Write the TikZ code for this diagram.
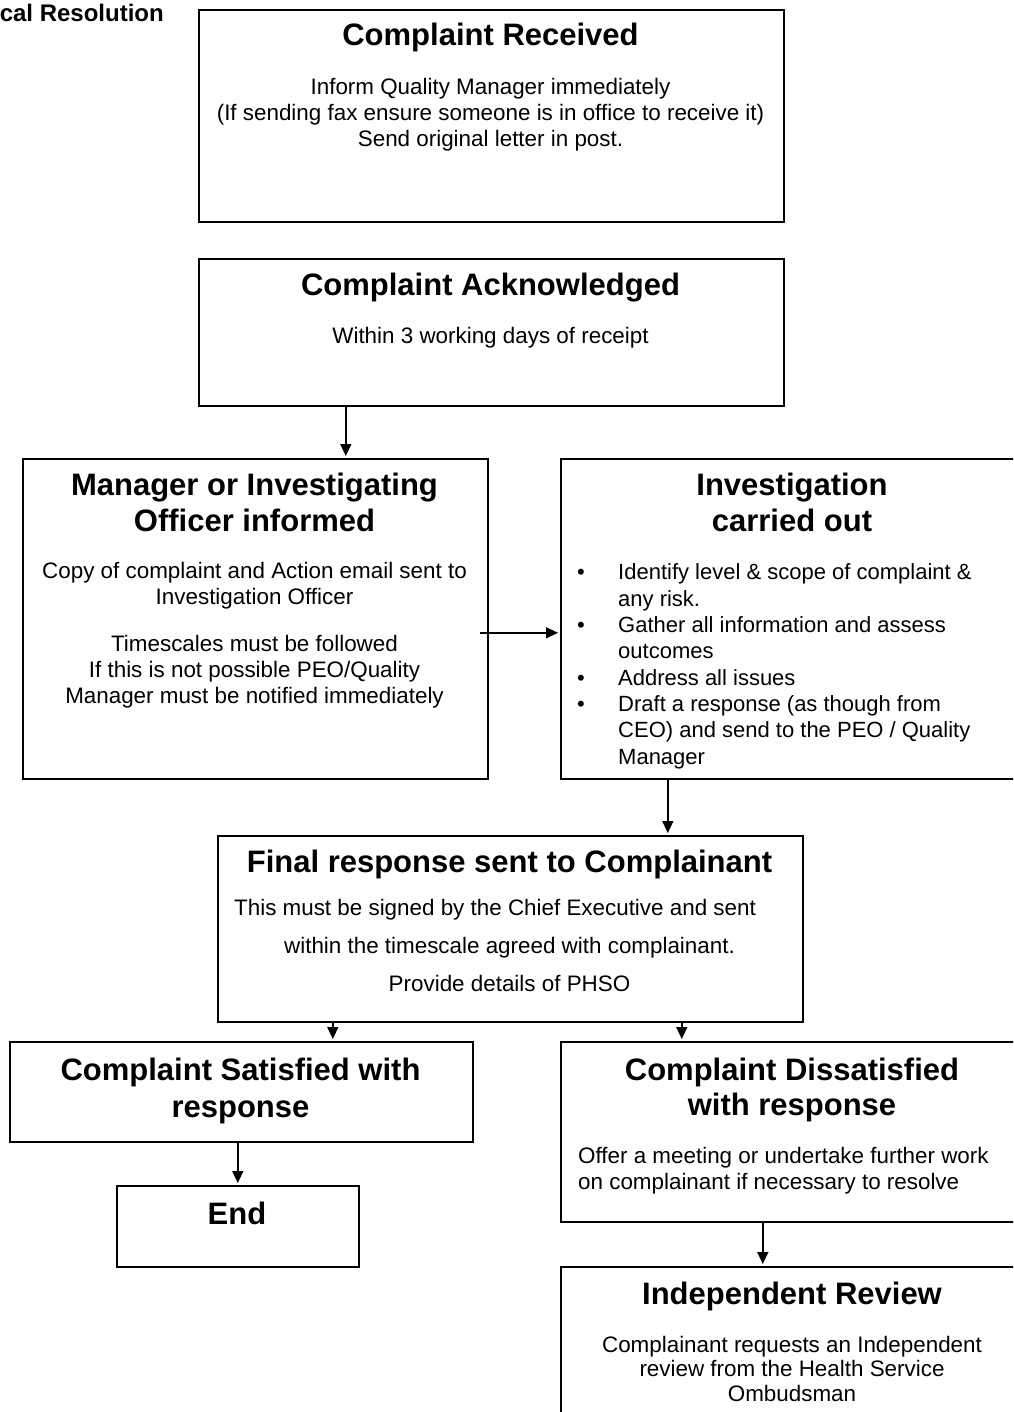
\documentclass[tikz,border=0pt]{standalone}
\usepackage{fontspec}
\setmainfont{Liberation Sans}
\usetikzlibrary{
    arrows.meta,
    positioning
}

\newcommand{\bul}{\makebox[41pt][l]{\textbullet}}
\newcommand{\cont}{\hspace*{41pt}}

\begin{document}
\begin{tikzpicture}[
        x=1pt, y=-1pt,
        >={Triangle[length=12pt,width=11pt]},
        box/.style={
            draw,
            line width=1.6pt,
            anchor=north west,
            inner sep=0pt
        },
        title/.style={
            anchor=base,
            align=center,
            inner sep=0pt,
            font=\fontsize{31}{36}\selectfont\bfseries
        },
        body/.style={
            anchor=base,
            align=center,
            inner sep=0pt,
            font=\fontsize{22.4}{26}\selectfont
        },
        link/.style={->, line width=1.4pt, shorten >=2pt}
    ]
        \useasboundingbox (0,0) rectangle (1013,1412);
        \clip (0,0) rectangle (1013,1412);

        \node[anchor=base east, inner sep=0pt,
            font=\fontsize{24}{28}\selectfont\bfseries] (hdr) at (164,22) {cal Resolution};

        % boxes
        \node[box, minimum width=585, minimum height=212] (recv) at (198,9) {};
        \node[box, minimum width=585, minimum height=147] (ack) at (198,258) {};
        \node[box, minimum width=465, minimum height=320] (mgr) at (22,458) {};
        \node[box, minimum width=464, minimum height=320] (inv) at (560,458) {};
        \node[box, minimum width=585, minimum height=186] (fin) at (217,835) {};
        \node[box, minimum width=463, minimum height=100] (sat) at (9,1041) {};
        \node[box, minimum width=242, minimum height=81] (end) at (116,1185) {};
        \node[box, minimum width=464, minimum height=180] (dis) at (560,1041) {};
        \node[box, minimum width=464, minimum height=200] (ind) at (560,1266) {};

        % texts (base = last line)
        \node[title] (recvT) at (490.5,46) {Complaint Received};
        \node[body] (recvB) at (490.5,147) {Inform Quality Manager immediately\\
            (If sending fax ensure someone is in office to receive it)\\
            Send original letter in post.};

        \node[title] (ackT) at (490.5,295) {Complaint Acknowledged};
        \node[body] (ackB) at (490.5,343) {Within 3 working days of receipt};

        \node[title] (mgrT) at (254.5,531) {Manager or Investigating\\Officer informed};
        \node[body] (mgrB) at (254.5,703) {Copy of complaint and Action email sent to\\
            Investigation Officer\\[21pt]
            Timescales must be followed\\
            If this is not possible PEO/Quality\\
            Manager must be notified immediately};

        \node[title] (invT) at (792,531) {Investigation\\carried out};
        \node[body, anchor=base west, align=left,
            font=\fontsize{22}{26.3}\selectfont] (invB) at (577,764) {%
            \bul Identify level \& scope of complaint \&\\
            \cont any risk.\\
            \bul Gather all information and assess\\
            \cont outcomes\\
            \bul Address all issues\\
            \bul Draft a response (as though from\\
            \cont CEO) and send to the PEO / Quality\\
            \cont Manager};

        \node[title] (finT) at (509.5,872) {Final response sent to Complainant};
        \node[body, font=\fontsize{22.4}{38}\selectfont] (finB) at (509.5,991) {%
            This must be signed by the Chief Executive and sent\hspace*{29pt}\\
            within the timescale agreed with complainant.\\
            Provide details of PHSO};

        \node[title, font=\fontsize{31}{37}\selectfont\bfseries] (satT) at (240.5,1117)
            {Complaint Satisfied with\\response};
        \node[title] (endT) at (237,1224) {End};

        \node[title, font=\fontsize{31}{35}\selectfont\bfseries] (disT) at (792,1115)
            {Complaint Dissatisfied\\with response};
        \node[body, anchor=base west, align=left] (disB) at (578,1189) {%
            Offer a meeting or undertake further work\\
            on complainant if necessary to resolve};

        \node[title] (indT) at (792,1304) {Independent Review};
        \node[body, font=\fontsize{22.4}{24.5}\selectfont] (indB) at (792,1401) {%
            Complainant requests an Independent\\
            review from the Health Service\\
            Ombudsman};

        % connectors
        \coordinate (m2i) at ([shift={(-9,14)}]mgr.east);
        \draw[link] ([xshift=-145.5]ack.south) -- ([xshift=-145.5]ack.south |- mgr.north);
        \draw[link] (m2i) -- (m2i -| inv.west);
        \draw[link] ([xshift=-125]inv.south) -- ([xshift=-125]inv.south |- fin.north);
        \draw[link] ([xshift=-177.5]fin.south) -- ([xshift=-177.5]fin.south |- sat.north);
        \draw[link] ([xshift=171.5]fin.south) -- ([xshift=171.5]fin.south |- dis.north);
        \draw[link] (sat.south -| end.north) -- (end.north);
        \draw[link] ([xshift=-30]dis.south) -- ([xshift=-30]dis.south |- ind.north);
    \end{tikzpicture}
\end{document}
